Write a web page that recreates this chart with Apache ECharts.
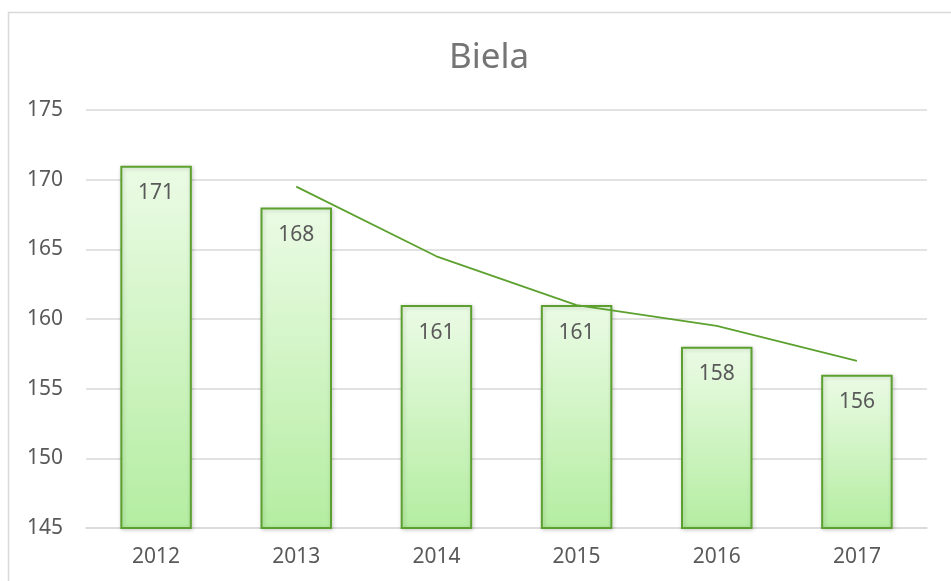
<!DOCTYPE html>
<html>
<head>
<meta charset="utf-8">
<script src="https://cdn.jsdelivr.net/npm/echarts@6/dist/echarts.min.js"></script>
<style>
  html, body { margin: 0; padding: 0; background: #fff; }
  #chart { width: 951px; height: 581px; }
</style>
</head>
<body>
<div id="chart"></div>
<script>
var years = ['2012', '2013', '2014', '2015', '2016', '2017'];
var values = [171, 168, 161, 161, 158, 156];
// 2-period moving average (trend line)
var trend = ['-', 169.5, 164.5, 161, 159.5, 157];

var textColor = '#595959';
var green = '#5ca12f';

var myChart = echarts.init(document.getElementById('chart'));

var option = {
  backgroundColor: '#fff',
  animation: false,
  textStyle: { fontFamily: 'Noto Sans' },
  title: {
    text: 'Biela',
    left: 444,
    top: 36,
    textStyle: { color: '#757575', fontSize: 35, fontWeight: 'normal', fontFamily: 'Noto Sans' }
  },
  graphic: [{
    type: 'rect',
    shape: { x: 8.5, y: 12.5, width: 1000, height: 1000 },
    style: { fill: 'none', stroke: '#d9d9d9', lineWidth: 1.5 },
    silent: true
  }],
  grid: { left: 86, right: 24, top: 110, bottom: 53 },
  xAxis: {
    type: 'category',
    data: years,
    axisTick: { show: false },
    axisLine: { show: true, lineStyle: { color: '#d9d9d9', width: 1.5 } },
    axisLabel: { color: textColor, fontSize: 21, margin: 19 }
  },
  yAxis: {
    type: 'value',
    min: 145,
    max: 175,
    interval: 5,
    axisLine: { show: false },
    axisTick: { show: false },
    splitLine: { lineStyle: { color: '#d9d9d9', width: 1.5 } },
    axisLabel: { color: textColor, fontSize: 21, margin: 23 }
  },
  series: [{
    type: 'bar',
    data: values,
    barWidth: '51%',
    itemStyle: {
      color: new echarts.graphic.LinearGradient(0, 0, 0, 1, [
        { offset: 0, color: '#ebfbe5' },
        { offset: 1, color: '#b4eda1' }
      ]),
      borderColor: green,
      borderWidth: 2,
      shadowBlur: 4,
      shadowColor: 'rgba(0,0,0,0.18)',
      shadowOffsetX: 1,
      shadowOffsetY: 1
    },
    label: {
      show: true,
      position: 'insideTop',
      distance: 17,
      color: textColor,
      fontSize: 21
    }
  }, {
    type: 'line',
    data: trend,
    symbol: 'none',
    lineStyle: { color: green, width: 1.8 },
    z: 5
  }]
};

myChart.setOption(option);
</script>
</body>
</html>
